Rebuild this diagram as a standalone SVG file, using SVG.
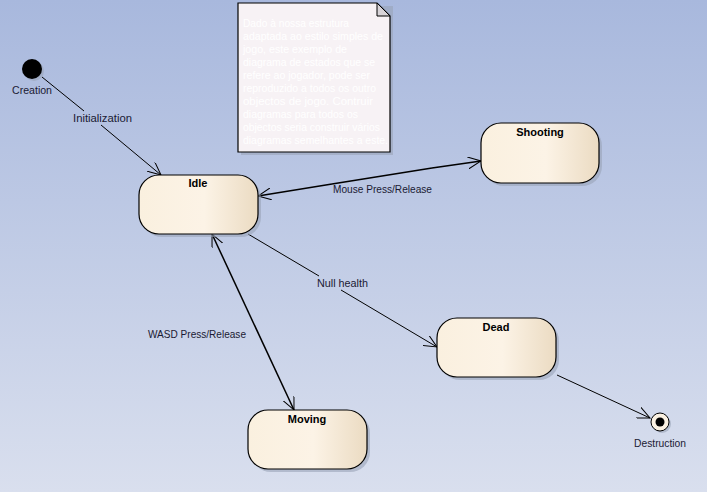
<svg xmlns="http://www.w3.org/2000/svg" width="707" height="492" viewBox="0 0 707 492">
<defs>
<linearGradient id="bg" x1="0" y1="0" x2="0" y2="1">
<stop offset="0" stop-color="#A8B8DD"/>
<stop offset="1" stop-color="#D9DFEE"/>
</linearGradient>
<linearGradient id="nodefill" x1="0" y1="0" x2="1" y2="0">
<stop offset="0" stop-color="#FAF0DF"/>
<stop offset="0.55" stop-color="#FCF3E6"/>
<stop offset="1" stop-color="#EBDBC2"/>
</linearGradient>
<marker id="open" viewBox="0 0 14 12" refX="13" refY="6" markerWidth="14" markerHeight="12" markerUnits="userSpaceOnUse" orient="auto-start-reverse">
<path d="M0,0 L13,6 L0,12" fill="none" stroke="#000" stroke-width="1"/>
</marker>
</defs>
<style>
.state{fill:url(#nodefill);stroke:#000;stroke-width:1.2}
.shadow{fill:#9AA3B8;opacity:0.6}
.title{font-family:"Liberation Sans",Arial,sans-serif;font-size:11px;font-weight:bold;fill:#000;text-anchor:middle}
.lbl{font-family:"Liberation Sans",Arial,sans-serif;font-size:11px;fill:#1A1A33}
.note{font-family:"Liberation Sans",Arial,sans-serif;font-size:11px;fill:#FFFFFF}
.edge{stroke:#000;stroke-width:1;fill:none}
.edge2{stroke:#000;stroke-width:1.5;fill:none}
</style>
<rect x="0" y="0" width="707" height="492" fill="url(#bg)"/>

<g id="note">
<path d="M241,6 H393 V155 H241 Z" class="shadow"/>
<path d="M238,3 H377 L390,16 V152 H238 Z" fill="#F7F2F5" stroke="#000" stroke-width="1.2"/>
<path d="M377,3 V16 H390 Z" fill="#D8D4D8" stroke="#000" stroke-width="1"/>
<text class="note" x="243" y="27" textLength="106" lengthAdjust="spacingAndGlyphs">Dado à nossa estrutura</text>
<text class="note" x="243" y="40" textLength="140" lengthAdjust="spacingAndGlyphs">adaptada ao estilo simples de</text>
<text class="note" x="243" y="53" textLength="104" lengthAdjust="spacingAndGlyphs">jogo, este exemplo de</text>
<text class="note" x="243" y="66" textLength="132" lengthAdjust="spacingAndGlyphs">diagrama de estados que se</text>
<text class="note" x="243" y="79" textLength="127" lengthAdjust="spacingAndGlyphs">refere ao jogador, pode ser</text>
<text class="note" x="243" y="92" textLength="133" lengthAdjust="spacingAndGlyphs">reproduzido a todos os outro</text>
<text class="note" x="243" y="105" textLength="130" lengthAdjust="spacingAndGlyphs">objectos de jogo. Contruir</text>
<text class="note" x="243" y="118" textLength="115" lengthAdjust="spacingAndGlyphs">diagramas para todos os</text>
<text class="note" x="243" y="131" textLength="137" lengthAdjust="spacingAndGlyphs">objectos seria construir vários</text>
<text class="note" x="243" y="144" textLength="145" lengthAdjust="spacingAndGlyphs">diagramas semelhantes a este.</text>
</g>

<g id="connectors">
<line class="edge" x1="42" y1="77" x2="84" y2="111"/>
<line class="edge" x1="101" y1="125" x2="161" y2="175" marker-end="url(#open)"/>
<text class="lbl" x="73" y="122" textLength="59" lengthAdjust="spacingAndGlyphs">Initialization</text>

<path class="edge2" d="M258,196 L332,184 M432,168 L481,161" marker-start="url(#open)" marker-end="url(#open)"/>
<line class="edge2" x1="332" y1="184" x2="432" y2="168"/>
<text class="lbl" x="333" y="193" textLength="99" lengthAdjust="spacingAndGlyphs">Mouse Press/Release</text>

<line class="edge2" x1="212" y1="234" x2="294" y2="410" marker-start="url(#open)" marker-end="url(#open)"/>
<text class="lbl" x="148" y="338" textLength="98" lengthAdjust="spacingAndGlyphs">WASD Press/Release</text>

<line class="edge" x1="248" y1="234" x2="319" y2="276"/>
<line class="edge" x1="341" y1="290" x2="437" y2="347" marker-end="url(#open)"/>
<text class="lbl" x="317" y="287" textLength="51" lengthAdjust="spacingAndGlyphs">Null health</text>

<line class="edge" x1="557" y1="375" x2="650" y2="418" marker-end="url(#open)"/>
</g>

<g id="creation">
<circle cx="34" cy="71" r="10" fill="#9AA3B8" opacity="0.6"/>
<circle cx="32" cy="69" r="10" fill="#000"/>
<text class="lbl" x="12" y="94" textLength="40" lengthAdjust="spacingAndGlyphs">Creation</text>
</g>

<g id="idle">
<rect x="142" y="178" width="119" height="59" rx="20" class="shadow"/>
<rect x="139" y="175" width="119" height="59" rx="20" class="state"/>
<text class="title" x="198" y="187">Idle</text>
</g>

<g id="shooting">
<rect x="484" y="126" width="118" height="60" rx="20" class="shadow"/>
<rect x="481" y="123" width="118" height="60" rx="20" class="state"/>
<text class="title" x="540" y="136">Shooting</text>
</g>

<g id="dead">
<rect x="440" y="321" width="119" height="59" rx="20" class="shadow"/>
<rect x="437" y="318" width="119" height="59" rx="20" class="state"/>
<text class="title" x="496" y="331">Dead</text>
</g>

<g id="moving">
<rect x="251" y="413" width="119" height="59" rx="20" class="shadow"/>
<rect x="248" y="410" width="119" height="59" rx="20" class="state"/>
<text class="title" x="307" y="423">Moving</text>
</g>

<g id="destruction">
<circle cx="662" cy="424" r="9" fill="#9AA3B8" opacity="0.6"/>
<circle cx="660" cy="422" r="9" fill="#FBF1E2" stroke="#000" stroke-width="1"/>
<circle cx="660" cy="422" r="4.5" fill="#000"/>
<text class="lbl" x="634" y="447" textLength="52" lengthAdjust="spacingAndGlyphs">Destruction</text>
</g>
</svg>
